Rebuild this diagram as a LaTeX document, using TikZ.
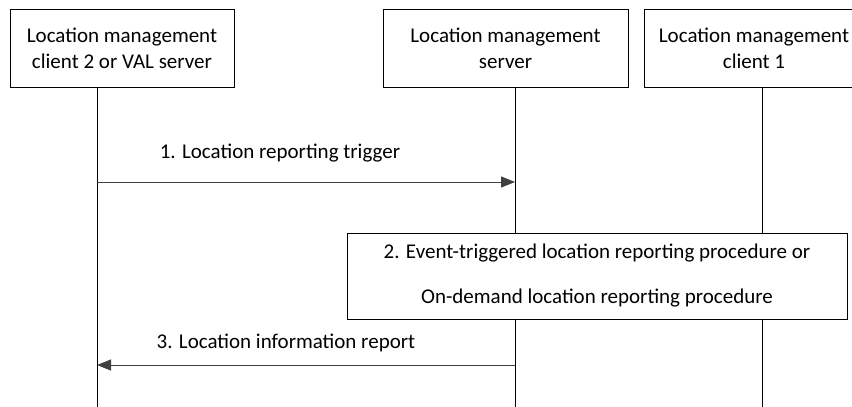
\documentclass[tikz,border=0pt]{standalone}
\usepackage{fontspec}
\setmainfont{Carlito}
\usetikzlibrary{arrows.meta}
\tikzstyle{entity}=[draw, align=center, inner sep=0pt, minimum height=78pt, line width=0.8pt]
\tikzstyle{procbox}=[draw, align=center, inner sep=0pt, minimum height=86pt, minimum width=500pt, line width=0.8pt]
\tikzstyle{lifeline}=[draw, line width=0.8pt]
\tikzstyle{msg}=[draw=black!75, line width=0.8pt, -{Triangle[length=14pt,width=11pt,fill=black!75]}]
\tikzstyle{msglabel}=[anchor=base, inner sep=0pt]
\newcommand{\entity}{\node[entity]}

\begin{document}
\begin{tikzpicture}[x=1pt, y=-1pt, font=\fontsize{21}{26}\selectfont]
            \useasboundingbox (0,0) rectangle (852,407);
            \entity[minimum width=224pt] (vals) at (122,48) {Location management\\client 2 or VAL server};
            \entity[minimum width=245pt] (lms) at (505.5,48) {Location management\\server};
            \entity[minimum width=220pt] (lmc) at (754,48) {Location management\\client 1};
            % lifelines
            \coordinate (vals top) at (97,87);
            \coordinate (vals m1) at (97,182);
            \coordinate (vals m3) at (97,365);
            \coordinate (vals end) at (97,407);
            \coordinate (lms top) at (515,87);
            \coordinate (lms m1) at (515,182);
            \coordinate (lms m3) at (515,365);
            \coordinate (lms end) at (515,407);
            \coordinate (lmc top) at (762,87);
            \coordinate (lmc end) at (762,407);
            \path[lifeline] (vals top) -- (vals end);
            \path[lifeline] (lms top) -- (lms end);
            \path[lifeline] (lmc top) -- (lmc end);
            % step 2
            \node[procbox, fill=white] (proc) at (597,276) {2. Event-triggered location reporting procedure or\\[19pt]On-demand location reporting procedure};
            % messages
            \path[msg] (vals m1) -- (lms m1);
            \node[msglabel] (msg1) at (280,158) {1. Location reporting trigger};
            \path[msg] (lms m3) -- (vals m3);
            \node[msglabel] (msg3) at (286,348) {3. Location information report};
        \end{tikzpicture}
\end{document}
